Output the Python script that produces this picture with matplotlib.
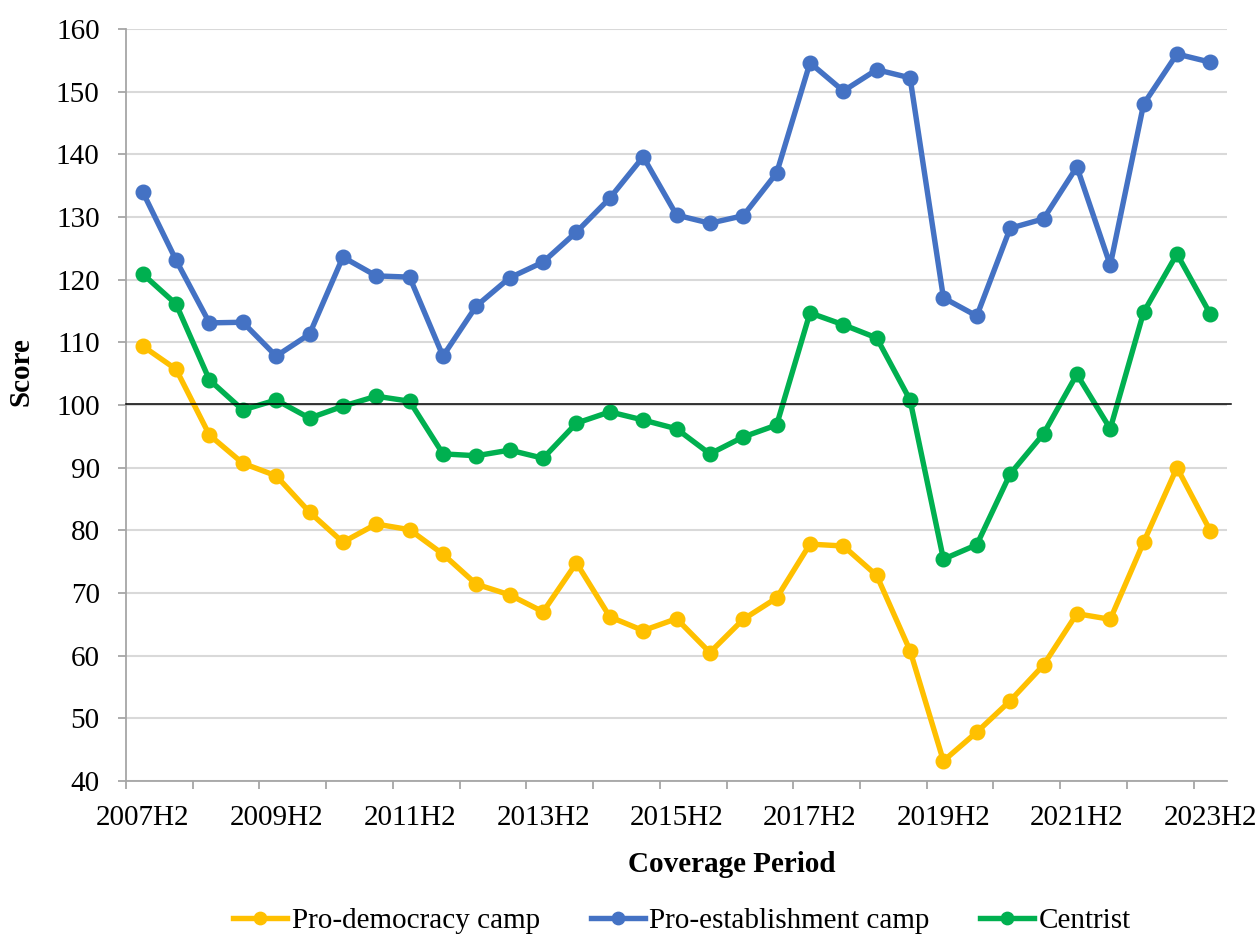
import numpy as np
import matplotlib
matplotlib.use("Agg")
import matplotlib.pyplot as plt
from matplotlib.ticker import FixedLocator

plt.rcParams['font.family'] = ['Liberation Serif', 'DejaVu Serif']

# half-year coverage periods, 2007H2 .. 2023H2
periods = [f"{y}H{h}" for y in range(2007, 2024) for h in (1, 2)][1:]

pro_democracy = [109.4, 105.7, 95.2, 90.7, 88.7, 82.9, 78.1, 81.0, 80.1, 76.2, 71.4,
                 69.7, 67.0, 74.8, 66.2, 64.0, 65.9, 60.5, 65.8, 69.2, 77.8, 77.5,
                 72.8, 60.8, 43.2, 47.8, 52.8, 58.5, 66.7, 65.8, 78.1, 90.0, 79.9]
pro_establishment = [134.0, 123.1, 113.1, 113.2, 107.8, 111.3, 123.6, 120.6, 120.4, 107.8, 115.8,
                     120.3, 122.8, 127.6, 133.0, 139.6, 130.3, 129.0, 130.2, 137.0, 154.6, 150.1,
                     153.5, 152.2, 117.1, 114.2, 128.2, 129.7, 138.0, 122.3, 148.0, 156.0, 154.7]
centrist = [120.9, 116.1, 104.0, 99.2, 100.8, 97.9, 99.8, 101.4, 100.6, 92.2, 91.9,
            92.8, 91.5, 97.1, 98.9, 97.6, 96.2, 92.2, 94.9, 96.8, 114.7, 112.8,
            110.7, 100.8, 75.4, 77.7, 89.0, 95.4, 104.9, 96.2, 114.8, 124.1, 114.5]

series = [
    ("Pro-democracy camp", pro_democracy, "#FFC000"),
    ("Pro-establishment camp", pro_establishment, "#4472C4"),
    ("Centrist", centrist, "#00B050"),
]

fig = plt.figure(figsize=(12.59, 9.34), dpi=100)
ax = fig.add_axes([0.1001, 0.1638, 0.8745, 0.8052])

x = np.arange(len(periods))
for name, vals, col in series:
    ax.plot(x, vals, color=col, lw=3.9, marker='o', ms=10.5, label=name,
            solid_joinstyle='round', zorder=3)

# reference line at 100
ax.axhline(100.2, color='black', lw=1.1, zorder=4, xmin=0, xmax=1.004, clip_on=False)

ax.set_xlim(-0.5, len(periods) - 0.5)
ax.set_ylim(40, 160)
ax.set_yticks(np.arange(40, 161, 10))
ax.grid(axis='y', color='#D9D9D9', lw=1.5, zorder=0)
ax.set_axisbelow(True)

ax.set_xticks(x[::4])
ax.set_xticklabels([periods[i] for i in x[::4]])
ax.xaxis.set_minor_locator(FixedLocator(np.arange(-0.5, len(periods) - 1, 2)))
ax.tick_params(axis='x', which='major', length=0, pad=17, labelsize=21)
ax.tick_params(axis='x', which='minor', length=6, width=1.3, color='#A6A6A6', direction='out')
ax.tick_params(axis='y', length=6, width=1.3, color='#A6A6A6', pad=13, labelsize=21)

for s in ['top', 'right']:
    ax.spines[s].set_visible(False)
for s in ['left', 'bottom']:
    ax.spines[s].set_color('#A6A6A6')
    ax.spines[s].set_linewidth(1.3)

ax.set_ylabel("Score", fontsize=21, fontweight='bold')
ax.yaxis.set_label_coords(-0.0835, 0.544)
ax.set_xlabel("Coverage Period", fontsize=21, fontweight='bold')
ax.xaxis.set_label_coords(0.55, -0.093)

ax.legend(loc='center', bbox_to_anchor=(0.505, -0.186), ncol=3, frameon=False,
          fontsize=21, handlelength=1.85, handletextpad=0.15, columnspacing=1.75,
          markerscale=0.85)

fig.savefig("out.png", dpi=100)
